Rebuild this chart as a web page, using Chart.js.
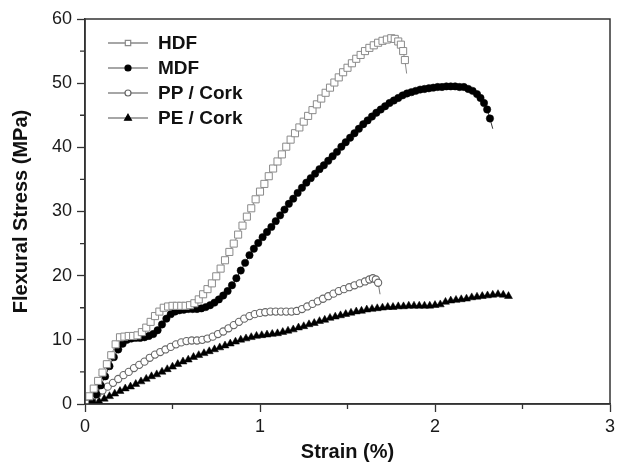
<!DOCTYPE html>
<html>
<head>
<meta charset="utf-8">
<script src="https://cdn.jsdelivr.net/npm/chart.js@4/dist/chart.umd.min.js"></script>
<style>
  html, body { margin: 0; padding: 0; background: #fff; }
  #wrap { width: 624px; height: 470px; position: relative; }
</style>
</head>
<body>
<div id="wrap"><canvas id="myChart"></canvas></div>
<script>
// values (strain in %, stress in MPa)
const hdfStrain = [0, 0.025, 0.05, 0.075, 0.1, 0.125, 0.15, 0.175, 0.2, 0.225, 0.25, 0.275, 0.3, 0.325, 0.35, 0.375, 0.4, 0.425, 0.45, 0.475, 0.5, 0.525, 0.55, 0.575, 0.6, 0.625, 0.65, 0.675, 0.7, 0.725, 0.75, 0.775, 0.8, 0.825, 0.85, 0.875, 0.9, 0.925, 0.95, 0.975, 1.0, 1.025, 1.05, 1.075, 1.1, 1.125, 1.15, 1.175, 1.2, 1.225, 1.25, 1.275, 1.3, 1.325, 1.35, 1.375, 1.4, 1.425, 1.45, 1.475, 1.5, 1.525, 1.55, 1.575, 1.6, 1.625, 1.65, 1.675, 1.7, 1.725, 1.75, 1.77, 1.79, 1.805, 1.818, 1.828, 1.838];
const hdfStress = [0, 1.2, 2.4, 3.6, 4.9, 6.2, 7.6, 9.3, 10.4, 10.5, 10.6, 10.6, 10.7, 11.2, 11.9, 12.8, 13.7, 14.4, 15.0, 15.2, 15.3, 15.3, 15.3, 15.3, 15.4, 15.7, 16.3, 17.1, 17.9, 18.8, 19.9, 21.1, 22.4, 23.7, 25.0, 26.4, 27.8, 29.2, 30.5, 31.9, 33.1, 34.3, 35.5, 36.7, 37.8, 38.9, 40.1, 41.2, 42.2, 43.1, 44.0, 44.9, 45.8, 46.7, 47.6, 48.5, 49.3, 50.1, 50.9, 51.7, 52.4, 53.1, 53.8, 54.4, 55.0, 55.5, 55.9, 56.3, 56.6, 56.8, 57.0, 56.9, 56.5, 56.0, 55.0, 53.6, 51.5];

const mdfStrain = [0.04, 0.065, 0.09, 0.115, 0.14, 0.165, 0.19, 0.215, 0.24, 0.265, 0.29, 0.315, 0.34, 0.365, 0.39, 0.415, 0.44, 0.465, 0.49, 0.515, 0.54, 0.565, 0.59, 0.615, 0.64, 0.665, 0.69, 0.715, 0.74, 0.765, 0.79, 0.815, 0.84, 0.865, 0.89, 0.915, 0.94, 0.965, 0.99, 1.015, 1.04, 1.065, 1.09, 1.115, 1.14, 1.165, 1.19, 1.215, 1.24, 1.265, 1.29, 1.315, 1.34, 1.365, 1.39, 1.415, 1.44, 1.465, 1.49, 1.515, 1.54, 1.565, 1.59, 1.615, 1.64, 1.665, 1.69, 1.715, 1.74, 1.765, 1.79, 1.815, 1.84, 1.865, 1.89, 1.915, 1.94, 1.965, 1.99, 2.015, 2.04, 2.065, 2.09, 2.115, 2.14, 2.165, 2.19, 2.215, 2.24, 2.26, 2.28, 2.298, 2.314, 2.33];
const mdfStress = [0.3, 1.5, 2.9, 4.3, 5.9, 7.3, 8.5, 9.4, 10.0, 10.2, 10.3, 10.3, 10.4, 10.6, 10.9, 11.5, 12.4, 13.3, 14.0, 14.4, 14.6, 14.7, 14.8, 14.8, 14.8, 14.9, 15.1, 15.4, 15.8, 16.3, 16.9, 17.6, 18.5, 19.6, 20.8, 22.0, 23.2, 24.2, 25.1, 26.0, 26.8, 27.6, 28.5, 29.4, 30.3, 31.2, 32.0, 32.9, 33.7, 34.5, 35.2, 35.9, 36.6, 37.2, 37.9, 38.6, 39.3, 40.1, 40.8, 41.5, 42.2, 42.9, 43.6, 44.2, 44.8, 45.4, 45.9, 46.4, 46.9, 47.3, 47.7, 48.1, 48.4, 48.6, 48.8, 49.0, 49.1, 49.2, 49.3, 49.4, 49.4, 49.5, 49.5, 49.5, 49.4, 49.4, 49.1, 48.8, 48.3, 47.7, 46.9, 45.9, 44.5, 42.9];

const ppStrain = [0.01, 0.04, 0.07, 0.10, 0.13, 0.16, 0.19, 0.22, 0.25, 0.28, 0.31, 0.34, 0.37, 0.40, 0.43, 0.46, 0.49, 0.52, 0.55, 0.58, 0.61, 0.64, 0.67, 0.70, 0.73, 0.76, 0.79, 0.82, 0.85, 0.88, 0.91, 0.94, 0.97, 1.00, 1.03, 1.06, 1.09, 1.12, 1.15, 1.18, 1.21, 1.24, 1.27, 1.30, 1.33, 1.36, 1.39, 1.42, 1.45, 1.48, 1.51, 1.54, 1.57, 1.60, 1.625, 1.645, 1.662, 1.675, 1.686];
const ppStress = [0.1, 0.8, 1.5, 2.1, 2.7, 3.3, 3.9, 4.5, 5.0, 5.6, 6.1, 6.6, 7.2, 7.7, 8.1, 8.5, 8.9, 9.3, 9.6, 9.8, 9.9, 9.9, 10.0, 10.2, 10.5, 10.9, 11.3, 11.8, 12.3, 12.8, 13.3, 13.7, 14.0, 14.2, 14.3, 14.4, 14.4, 14.4, 14.4, 14.4, 14.5, 14.8, 15.2, 15.6, 16.0, 16.4, 16.8, 17.2, 17.6, 17.9, 18.2, 18.5, 18.8, 19.1, 19.4, 19.6, 19.4, 18.9, 17.1];

const peStrain = [0.05, 0.08, 0.11, 0.14, 0.17, 0.20, 0.23, 0.26, 0.29, 0.32, 0.35, 0.38, 0.41, 0.44, 0.47, 0.50, 0.53, 0.56, 0.59, 0.62, 0.65, 0.68, 0.71, 0.74, 0.77, 0.80, 0.83, 0.86, 0.89, 0.92, 0.95, 0.98, 1.01, 1.04, 1.07, 1.10, 1.13, 1.16, 1.19, 1.22, 1.25, 1.28, 1.31, 1.34, 1.37, 1.40, 1.43, 1.46, 1.49, 1.52, 1.55, 1.58, 1.61, 1.64, 1.67, 1.70, 1.73, 1.76, 1.79, 1.82, 1.85, 1.88, 1.91, 1.94, 1.97, 2.00, 2.03, 2.06, 2.09, 2.12, 2.15, 2.18, 2.21, 2.24, 2.27, 2.30, 2.33, 2.36, 2.39, 2.42];
const peStress = [0, 0.4, 0.8, 1.2, 1.6, 2.0, 2.4, 2.7, 3.1, 3.5, 3.9, 4.3, 4.6, 5.0, 5.4, 5.8, 6.2, 6.6, 6.9, 7.3, 7.6, 7.9, 8.2, 8.5, 8.8, 9.1, 9.4, 9.7, 10.0, 10.2, 10.4, 10.6, 10.7, 10.8, 10.9, 11.0, 11.2, 11.4, 11.6, 11.9, 12.1, 12.4, 12.6, 12.9, 13.1, 13.4, 13.6, 13.8, 14.0, 14.2, 14.4, 14.5, 14.7, 14.8, 14.9, 15.0, 15.1, 15.1, 15.2, 15.2, 15.3, 15.3, 15.3, 15.3, 15.3, 15.4, 15.5, 15.9, 16.1, 16.2, 16.3, 16.4, 16.6, 16.7, 16.8, 16.9, 17.0, 17.1, 17.0, 16.8];

const seriesNames = ['HDF', 'MDF', 'PP / Cork', 'PE / Cork'];
const xTickValues = [0, 1, 2, 3];
const yTickValues = [0, 10, 20, 30, 40, 50, 60];
const xMinorTicks = [0.5, 1.5, 2.5];
const yMinorTicks = [5, 15, 25, 35, 45, 55];

const FONT = '"Liberation Sans", Arial, sans-serif';

function toPoints(xs, ys) {
	return xs.map((x, i) => ({ x: x, y: ys[i] }));
}

// last point of a broken specimen is just the drop line, no marker
function tailless(r) {
	return (c) => c.dataIndex === c.dataset.data.length - 1 ? 0 : r;
}

const styles = [
	{ shape: 'rect', fill: '#ffffff', stroke: '#8a8a8a', line: '#8a8a8a' },
	{ shape: 'circle', fill: '#000000', stroke: '#000000', line: '#333333' },
	{ shape: 'circle', fill: '#ffffff', stroke: '#666666', line: '#777777' },
	{ shape: 'triangle', fill: '#000000', stroke: '#000000', line: '#333333' }
];

const framePlugin = {
	id: 'frame',
	afterDraw(chart) {
		const ctx = chart.ctx;
		const a = chart.chartArea;
		const xs = chart.scales.x, ys = chart.scales.y;
		ctx.save();
		ctx.strokeStyle = '#333';
		ctx.lineWidth = 1.5;
		ctx.strokeRect(a.left, a.top, a.right - a.left, a.bottom - a.top);

		// short minor ticks
		ctx.lineWidth = 1.3;
		ctx.beginPath();
		xMinorTicks.forEach(v => {
			const px = xs.getPixelForValue(v);
			ctx.moveTo(px, a.bottom);
			ctx.lineTo(px, a.bottom + 5);
		});
		yMinorTicks.forEach(v => {
			const py = ys.getPixelForValue(v);
			ctx.moveTo(a.left, py);
			ctx.lineTo(a.left - 5, py);
		});
		ctx.stroke();

		// legend, top left inside the frame
		const lx = a.left + 23;
		seriesNames.forEach((name, i) => {
			const y = a.top + 24 + i * 25;
			const s = styles[i];
			ctx.strokeStyle = '#888';
			ctx.lineWidth = 1.5;
			ctx.beginPath();
			ctx.moveTo(lx, y);
			ctx.lineTo(lx + 40, y);
			ctx.stroke();

			const cx = lx + 20;
			ctx.fillStyle = s.fill;
			ctx.strokeStyle = s.stroke;
			ctx.lineWidth = 1.2;
			ctx.beginPath();
			if (s.shape === 'rect') {
				ctx.rect(cx - 2.7, y - 2.7, 5.4, 5.4);
			} else if (s.shape === 'circle') {
				ctx.arc(cx, y, 3, 0, Math.PI * 2);
			} else {
				ctx.moveTo(cx, y - 3.8);
				ctx.lineTo(cx + 3.4, y + 2.2);
				ctx.lineTo(cx - 3.4, y + 2.2);
				ctx.closePath();
			}
			ctx.fill();
			ctx.stroke();

			ctx.fillStyle = '#111';
			ctx.font = 'bold 19px ' + FONT;
			ctx.textAlign = 'left';
			ctx.textBaseline = 'middle';
			ctx.fillText(name, lx + 50, y + 1);
		});
		ctx.restore();
	}
};

const ctx = document.getElementById('myChart').getContext('2d');

new Chart(ctx, {
	type: 'scatter',
	data: {
		datasets: [{
			label: seriesNames[0],
			data: toPoints(hdfStrain, hdfStress),
			showLine: true,
			borderColor: styles[0].line,
			borderWidth: 1,
			pointStyle: 'rect',
			pointRadius: tailless(5),
			pointBackgroundColor: styles[0].fill,
			pointBorderColor: styles[0].stroke,
			pointBorderWidth: 1
		}, {
			label: seriesNames[1],
			data: toPoints(mdfStrain, mdfStress),
			showLine: true,
			borderColor: styles[1].line,
			borderWidth: 1,
			pointStyle: 'circle',
			pointRadius: tailless(3.7),
			pointBackgroundColor: styles[1].fill,
			pointBorderColor: styles[1].stroke,
			pointBorderWidth: 0.5
		}, {
			label: seriesNames[2],
			data: toPoints(ppStrain, ppStress),
			showLine: true,
			borderColor: styles[2].line,
			borderWidth: 1,
			pointStyle: 'circle',
			pointRadius: tailless(3.6),
			pointBackgroundColor: styles[2].fill,
			pointBorderColor: styles[2].stroke,
			pointBorderWidth: 1.1
		}, {
			label: seriesNames[3],
			data: toPoints(peStrain, peStress),
			showLine: true,
			borderColor: styles[3].line,
			borderWidth: 1,
			pointStyle: 'triangle',
			pointRadius: 4.6,
			pointBackgroundColor: styles[3].fill,
			pointBorderColor: styles[3].stroke,
			pointBorderWidth: 0.5
		}]
	},
	options: {
		responsive: true,
		maintainAspectRatio: false,
		animation: false,
		layout: {
			padding: { top: 19, right: 14, left: 0, bottom: 0 }
		},
		plugins: {
			legend: { display: false },
			tooltip: { enabled: false }
		},
		scales: {
			x: {
				type: 'linear',
				min: 0,
				max: 3,
				afterFit: (scale) => { scale.height = 66; },
				afterBuildTicks: (scale) => { scale.ticks = xTickValues.map(v => ({ value: v })); },
				ticks: {
					color: '#1a1a1a',
					font: { family: FONT, size: 18 },
					padding: 4,
					maxRotation: 0
				},
				grid: {
					drawOnChartArea: false,
					drawTicks: true,
					tickLength: 8,
					tickColor: '#333',
					tickWidth: 1.3
				},
				border: { display: true, color: '#333', width: 1.5 },
				title: {
					display: true,
					text: 'Strain (%)',
					color: '#111',
					font: { family: FONT, size: 20, weight: 'bold' },
					padding: { top: 0, bottom: 6 }
				}
			},
			y: {
				type: 'linear',
				min: 0,
				max: 60,
				afterFit: (scale) => { scale.width = 85; },
				afterBuildTicks: (scale) => { scale.ticks = yTickValues.map(v => ({ value: v })); },
				ticks: {
					color: '#1a1a1a',
					font: { family: FONT, size: 18 },
					padding: 5
				},
				grid: {
					drawOnChartArea: false,
					drawTicks: true,
					tickLength: 8,
					tickColor: '#333',
					tickWidth: 1.3
				},
				border: { display: true, color: '#333', width: 1.5 },
				title: {
					display: true,
					text: 'Flexural Stress (MPa)',
					color: '#111',
					font: { family: FONT, size: 20, weight: 'bold' },
					padding: { top: 9, bottom: 0 }
				}
			}
		}
	},
	plugins: [framePlugin]
});
</script>
</body>
</html>
